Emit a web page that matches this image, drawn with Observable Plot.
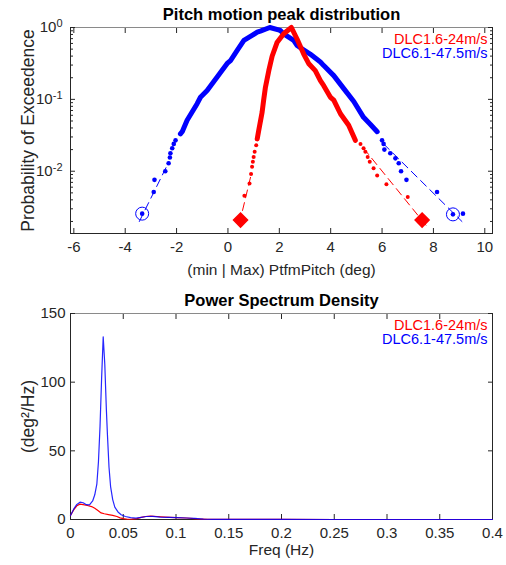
<!DOCTYPE html>
<html><head><meta charset="utf-8">
<script src="https://cdn.jsdelivr.net/npm/d3@7"></script>
<script src="https://cdn.jsdelivr.net/npm/@observablehq/plot@0.6"></script>
<style>
body{margin:0;background:#fff;}
#wrap{position:relative;width:506px;height:565px;}
#wrap svg{position:absolute;left:0;}
</style></head><body><div id="wrap"></div>
<script>
// ---------- Top chart data: exceedance probability of peaks ----------
const blueCurveX = [-1.85,-1.78,-1.59,-1.20,-1.07,-0.81,-0.42,-0.03,0.10,0.36,0.62,0.94,1.14,1.26,1.63,2.04,2.17,2.56,2.69,3.20,3.60,3.73,4.12,4.51,4.90,5.28,5.55,5.81];
const blueCurveP = [0.0331,0.0355,0.0513,0.0871,0.107,0.133,0.204,0.316,0.347,0.479,0.661,0.776,0.861,0.89,1.0,0.912,0.813,0.661,0.562,0.427,0.331,0.295,0.214,0.141,0.0933,0.0562,0.0447,0.0355];
const blueDotsX = [-2.04,-2.11,-2.17,-2.24,-2.26,-2.31,-2.44,-2.86,-2.89,-3.34,6.0,6.06,6.09,6.32,6.52,6.65,6.74,6.95,8.14,8.76,9.15];
const blueDotsP = [0.0269,0.024,0.0209,0.0178,0.0155,0.0129,0.01,0.00759,0.00513,0.00257,0.0269,0.024,0.02,0.0178,0.0151,0.0129,0.01,0.00759,0.00513,0.00251,0.00257];
const redCurveX = [1.14,1.20,1.33,1.39,1.46,1.59,1.72,1.91,2.17,2.47,2.69,2.95,3.14,3.40,3.60,3.73,3.99,4.12,4.38,4.70,4.90,4.96];
const redCurveP = [0.0282,0.0372,0.0661,0.0977,0.148,0.251,0.398,0.617,0.817,1.0,0.692,0.427,0.316,0.251,0.182,0.155,0.107,0.0977,0.0631,0.0437,0.0302,0.0269];
const redDotsX = [1.10,1.04,1.00,0.97,0.94,0.90,0.84,0.64,5.16,5.28,5.35,5.44,5.52,5.67,5.81,6.17,7.00,7.62];
const redDotsP = [0.0229,0.0186,0.0158,0.0135,0.0115,0.00912,0.00676,0.00457,0.024,0.0209,0.0186,0.0158,0.0135,0.011,0.0087,0.0066,0.00437,0.0021];
// fitted extrapolation lines (start, end)
const blueFitLeftX = [-3.45,-2.30];  const blueFitLeftP = [0.00200,0.0135];
const blueFitRightX = [6.06,9.11];   const blueFitRightP = [0.024,0.0020];
const redFitLeftX = [0.45,0.92];     const redFitLeftP = [0.0019,0.0095];
const redFitRightX = [5.28,7.75];    const redFitRightP = [0.0209,0.0017];
// extreme markers
const blueCircleX = [-3.34,8.76];    const blueCircleP = [0.00257,0.00251];
const redDiamondX = [0.49,7.56];     const redDiamondP = [0.00209,0.00209];

const xTicksTop = [-6,-4,-2,0,2,4,6,8,10];
const yMajorTicks = [0.01,0.1,1];
const yMajorLabels = ["10^-2","10^-1","10^0"];
const yMinorTicks = [0.002,0.003,0.004,0.005,0.006,0.007,0.008,0.009,0.02,0.03,0.04,0.05,0.06,0.07,0.08,0.09,0.2,0.3,0.4,0.5,0.6,0.7,0.8,0.9];

// ---------- Bottom chart data: PSD ----------
const psdFreqBlue = [0,0.003,0.006,0.009,0.012,0.015,0.018,0.021,0.023,0.025,0.0265,0.028,0.0295,0.031,0.0325,0.034,0.035,0.0365,0.038,0.040,0.042,0.045,0.048,0.052,0.057,0.062,0.067,0.072,0.078,0.085,0.093,0.101,0.110,0.118,0.126,0.135,0.15,0.2,0.25,0.3,0.35,0.4];
const psdBlue = [2.9,7.5,11,12.6,12.2,10.8,10.6,13.5,18,26,42,68,103,133,113,80,62,38,24,14.5,9,5.5,3.5,2.2,1.4,1.0,1.6,2.2,2.3,1.8,1.6,1.4,1.1,0.8,0.3,0.1,0.05,0.02,0.01,0.01,0.01,0.01];
const psdFreqRed = [0,0.003,0.006,0.009,0.012,0.016,0.020,0.023,0.026,0.029,0.032,0.036,0.040,0.044,0.047,0.050,0.054,0.058,0.063,0.067,0.071,0.076,0.082,0.09,0.1,0.11,0.12,0.13,0.15,0.2,0.25,0.3,0.35,0.4];
const psdRed = [2.9,7,10,11.2,10.8,10.2,9.4,8.2,6.5,4.8,4.2,3.6,3.0,2.2,1.2,0.6,0.2,0.3,0.6,1.5,2.2,2.5,2.2,1.8,1.4,1.1,0.5,0.1,0.05,0.02,0.01,0.01,0.01,0.01];
const xTicksPsd = [0,0.05,0.1,0.15,0.2,0.25,0.3,0.35,0.4];
const xTickLabelsPsd = ["0","0.05","0.1","0.15","0.2","0.25","0.3","0.35","0.4"];
const yTicksPsd = [0,50,100,150];

const legendLabels = ["DLC1.6-24m/s","DLC6.1-47.5m/s"];
const legendColors = ["#ff0000","#0000ff"];

const zip = (xs, ys) => xs.map((x, i) => ({x, y: ys[i]}));
const AX = "#262626";
const FONT = "'Liberation Sans', Arial, sans-serif";

function boxAxes(xt, yt, xfmt, yfmt, yMinor, yPad) {
  const m = [
    Plot.axisX(xt, {anchor: "bottom", tickSize: -5, tickFormat: () => "", label: null, stroke: AX}),
    Plot.axisX(xt, {anchor: "top", tickSize: -5, tickFormat: () => "", label: null, stroke: AX}),
    Plot.axisY(yt, {anchor: "left", tickSize: -5, tickFormat: () => "", label: null, stroke: AX}),
    Plot.axisY(yt, {anchor: "right", tickSize: -5, tickFormat: () => "", label: null, stroke: AX}),
    Plot.axisX(xt, {anchor: "bottom", tickSize: 0, tickPadding: 8, tickFormat: xfmt, label: null, fill: AX, fontSize: 15}),
    Plot.axisY(yt, {anchor: "left", tickSize: 0, tickPadding: yPad, tickFormat: yfmt, label: null, fill: AX, fontSize: 15})
  ];
  if (yMinor) {
    m.push(Plot.axisY(yMinor, {anchor: "left", tickSize: -3, tickFormat: () => "", label: null, stroke: AX}));
    m.push(Plot.axisY(yMinor, {anchor: "right", tickSize: -3, tickFormat: () => "", label: null, stroke: AX}));
  }
  return m;
}

function legend() {
  return legendLabels.map((t, i) => Plot.text([t], {
    text: d => d, frameAnchor: "top-right", textAnchor: "end", lineAnchor: "middle",
    dx: -5, dy: 11.5 + i * 14.5, fill: legendColors[i], fontSize: 14.5
  }));
}

function titleText(t) {
  return Plot.text([t], {text: d => d, frameAnchor: "top", textAnchor: "middle", lineAnchor: "middle", dy: -13, fontWeight: "bold", fontSize: 16.5, fill: "#000"});
}
function xLabel(t, dy) {
  return Plot.text([t], {text: d => d, frameAnchor: "bottom", textAnchor: "middle", lineAnchor: "middle", dy, fontSize: 15.5, fill: AX});
}
function yLabel(t, fs) {
  return Plot.text([t], {text: d => d, frameAnchor: "left", textAnchor: "middle", lineAnchor: "middle", dx: -42, rotate: -90, fontSize: fs, fill: AX});
}

// ---------- Top plot ----------
const topPlot = Plot.plot({
  width: 506, height: 280,
  marginLeft: 70, marginRight: 14, marginTop: 27, marginBottom: 47,
  style: {fontFamily: FONT, fontSize: "15px", color: AX, background: "transparent", overflow: "visible"},
  x: {domain: [-6.13, 10.3]},
  y: {type: "log", domain: [0.00136, 1]},
  marks: [
    Plot.frame({stroke: AX}),
    Plot.ruleY([1], {stroke: "#8a8a8a"}),
    ...boxAxes(xTicksTop, yMajorTicks, d => String(d), d => yMajorLabels[yMajorTicks.indexOf(d)], yMinorTicks, 8),
    Plot.line(zip(blueFitLeftX, blueFitLeftP), {x: "x", y: "y", stroke: "#0000ff", strokeWidth: 1, strokeDasharray: "8,5"}),
    Plot.line(zip(blueFitRightX, blueFitRightP), {x: "x", y: "y", stroke: "#0000ff", strokeWidth: 1, strokeDasharray: "8,5"}),
    Plot.line(zip(redFitLeftX, redFitLeftP), {x: "x", y: "y", stroke: "#ff0000", strokeWidth: 1, strokeDasharray: "8,5"}),
    Plot.line(zip(redFitRightX, redFitRightP), {x: "x", y: "y", stroke: "#ff0000", strokeWidth: 1, strokeDasharray: "8,5"}),
    Plot.line(zip(blueCurveX, blueCurveP), {x: "x", y: "y", stroke: "#0000ff", strokeWidth: 5, strokeLinecap: "round", strokeLinejoin: "round"}),
    Plot.dot(zip(blueDotsX, blueDotsP), {x: "x", y: "y", r: 2.3, fill: "#0000ff"}),
    Plot.line(zip(redCurveX, redCurveP), {x: "x", y: "y", stroke: "#ff0000", strokeWidth: 5, strokeLinecap: "round", strokeLinejoin: "round"}),
    Plot.dot(zip(redDotsX, redDotsP), {x: "x", y: "y", r: 2, fill: "#ff0000"}),
    Plot.dot(zip(blueCircleX, blueCircleP), {x: "x", y: "y", r: 6.5, stroke: "#0000ff", strokeWidth: 1, fill: "none"}),
    Plot.dot(zip(redDiamondX, redDiamondP), {x: "x", y: "y", r: 6.3, symbol: "diamond2", fill: "#ff0000", stroke: "#ff0000"}),
    ...legend(),
    titleText("Pitch motion peak distribution"),
    xLabel("(min | Max) PtfmPitch (deg)", 37),
    yLabel("Probability of Exceedence", 17.5)
  ]
});
topPlot.style.top = "0px";

// superscript exponents on log axis labels
d3.select(topPlot).selectAll('g[aria-label="y-axis tick label"] text').each(function () {
  const t = this.textContent;
  if (!t.includes("^")) return;
  const [b, e] = t.split("^");
  const s = d3.select(this);
  s.text("");
  s.append("tspan").text(b);
  s.append("tspan").attr("dy", "-0.45em").attr("font-size", "11px").text(e);
});

// ---------- Bottom plot ----------
const bottomPlot = Plot.plot({
  width: 506, height: 285,
  marginLeft: 70, marginRight: 14, marginTop: 33, marginBottom: 46,
  style: {fontFamily: FONT, fontSize: "15px", color: AX, background: "transparent", overflow: "visible"},
  x: {domain: [0, 0.4]},
  y: {domain: [0, 150]},
  marks: [
    Plot.frame({stroke: AX}),
    Plot.ruleY([150], {stroke: "#8a8a8a"}),
    ...boxAxes(xTicksPsd, yTicksPsd, d => xTickLabelsPsd[xTicksPsd.indexOf(d)], d => String(d), null, 5),
    Plot.line(zip(psdFreqRed, psdRed), {x: "x", y: "y", stroke: "#ff0000", strokeWidth: 1.2}),
    Plot.line(zip(psdFreqBlue, psdBlue), {x: "x", y: "y", stroke: "#0000ff", strokeWidth: 1.2, strokeOpacity: 0.85}),
    ...legend(),
    titleText("Power Spectrum Density"),
    xLabel("Freq (Hz)", 31),
    yLabel("(deg²/Hz)", 17.5)
  ]
});
bottomPlot.style.top = "280px";

document.getElementById("wrap").append(topPlot, bottomPlot);
</script>
</body></html>
